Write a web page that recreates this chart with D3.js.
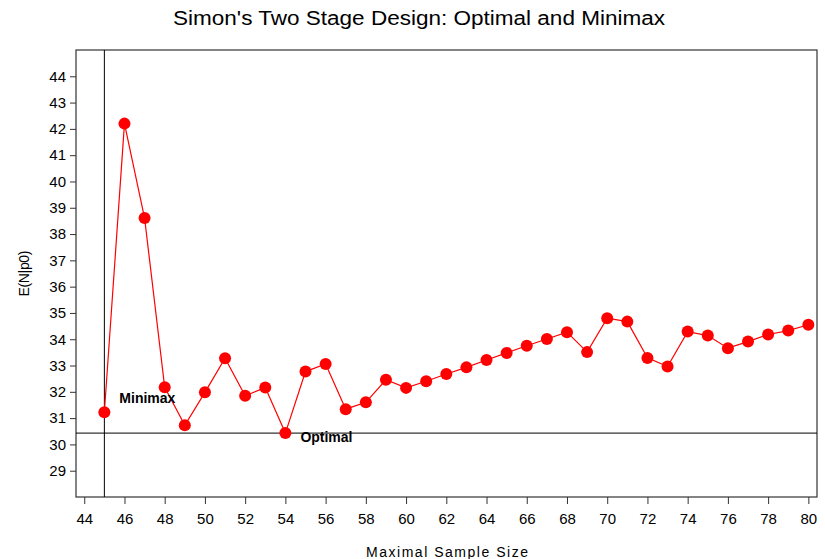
<!DOCTYPE html>
<html lang="en">
<meta charset="UTF-8">
<script src="https://d3js.org/d3.v7.min.js"></script>
<title>Simon's Two Stage Design</title>
<style>
  body { margin: 0; background: #fff; }
  text { font-family: "Liberation Sans", Arial, sans-serif; fill: #000; }
</style>
<svg id="canvas"></svg>
<script>
// maximal sample size n and expected sample size under p0
let sampleSize = [45,46,47,48,49,50,51,52,53,54,55,56,57,58,59,60,61,62,
                  63,64,65,66,67,68,69,70,71,72,73,74,75,76,77,78,79,80]
let expectedN  = [31.22,42.2,38.61,32.17,30.73,31.98,33.28,31.85,32.16,30.43,
                  32.77,33.06,31.34,31.6,32.46,32.15,32.4,32.68,32.93,33.21,
                  33.48,33.75,34.01,34.27,33.51,34.8,34.67,33.29,32.96,34.29,
                  34.14,33.66,33.91,34.18,34.33,34.55]
let xTicks = [44,46,48,50,52,54,56,58,60,62,64,66,68,70,72,74,76,78,80]
let yTicks = [29,30,31,32,33,34,35,36,37,38,39,40,41,42,43,44]
let minimaxN = 45
let optimalEN = 30.43

let width = 825
let height = 559
let padLeft = 76, padRight = 817, padTop = 50, padBottom = 497

let canvas = d3.select('#canvas')
canvas.attr('width', width).attr('height', height)

let xScale = d3.scaleLinear().domain([43.59, 80.43]).range([padLeft, padRight])
let yScale = d3.scaleLinear().domain([28, 45]).range([padBottom, padTop])

// title
canvas.append('text')
    .attr('x', 419).attr('y', 25)
    .attr('text-anchor', 'middle')
    .attr('font-size', 20)
    .attr('textLength', 492)
    .attr('lengthAdjust', 'spacingAndGlyphs')
    .text("Simon's Two Stage Design: Optimal and Minimax")

// frame
canvas.append('rect')
    .attr('x', padLeft).attr('y', padTop)
    .attr('width', padRight - padLeft).attr('height', padBottom - padTop)
    .attr('fill', 'none').attr('stroke', '#333').attr('stroke-width', 1.2)

// axes
let xAxis = d3.axisBottom(xScale).tickValues(xTicks).tickSize(7).tickPadding(9)
let yAxis = d3.axisLeft(yScale).tickValues(yTicks).tickSize(6).tickPadding(4)

let gx = canvas.append('g').attr('transform', 'translate(0,' + padBottom + ')').call(xAxis)
let gy = canvas.append('g').attr('transform', 'translate(' + padLeft + ',0)').call(yAxis)
gx.select('.domain').remove()
gy.select('.domain').remove()
canvas.selectAll('.tick text')
    .attr('font-size', 15)
    .attr('font-family', '"Liberation Sans", Arial, sans-serif')
canvas.selectAll('.tick line').attr('stroke', '#333')

// axis labels
canvas.append('text')
    .attr('x', 447).attr('y', 557)
    .attr('text-anchor', 'middle')
    .attr('font-size', 14)
    .attr('textLength', 162)
    .text('Maximal Sample Size')

canvas.append('text')
    .attr('transform', 'translate(29,' + ((padTop + padBottom) / 2) + ') rotate(-90)')
    .attr('text-anchor', 'middle')
    .attr('font-size', 14)
    .attr('textLength', 46)
    .text('E(N|p0)')

// reference lines
canvas.append('line')
    .attr('x1', xScale(minimaxN)).attr('x2', xScale(minimaxN))
    .attr('y1', padTop).attr('y2', padBottom)
    .attr('stroke', '#000').attr('stroke-width', 1)
canvas.append('line')
    .attr('x1', padLeft).attr('x2', padRight)
    .attr('y1', yScale(optimalEN)).attr('y2', yScale(optimalEN))
    .attr('stroke', '#000').attr('stroke-width', 1)

// data
let points = sampleSize.map((n, i) => ({n: n, en: expectedN[i]}))

let line = d3.line().x(d => xScale(d.n)).y(d => yScale(d.en))
canvas.append('path')
    .datum(points)
    .attr('d', line)
    .attr('fill', 'none')
    .attr('stroke', '#ff0000')
    .attr('stroke-width', 1.2)

canvas.selectAll('circle')
    .data(points)
    .enter()
    .append('circle')
    .attr('cx', d => xScale(d.n))
    .attr('cy', d => yScale(d.en))
    .attr('r', 6)
    .attr('fill', '#ff0000')

// design labels
canvas.append('text')
    .attr('x', xScale(minimaxN) + 15).attr('y', yScale(31.22) - 9)
    .attr('font-size', 14).attr('font-weight', 'bold')
    .text('Minimax')
canvas.append('text')
    .attr('x', xScale(54) + 15).attr('y', yScale(optimalEN) + 9)
    .attr('font-size', 14).attr('font-weight', 'bold')
    .text('Optimal')
</script>
</html>
